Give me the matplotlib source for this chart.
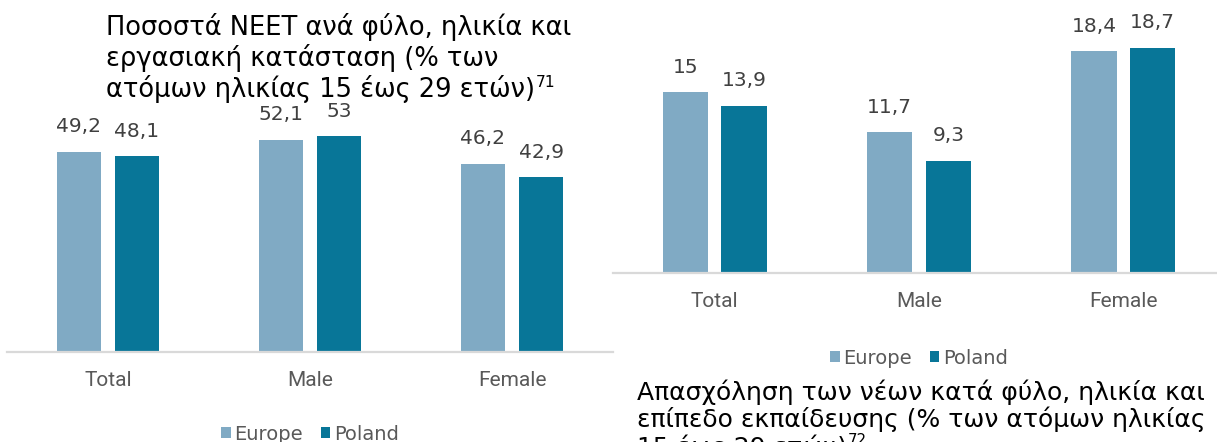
import matplotlib
matplotlib.use("Agg")
import matplotlib.pyplot as plt
from matplotlib.patches import Patch

W, H = 1217, 442

categories = ["Total", "Male", "Female"]
series_names = ["Europe", "Poland"]

neet_europe = [49.2, 52.1, 46.2]
neet_poland = [48.1, 53.0, 42.9]

emp_europe = [15.0, 11.7, 18.4]
emp_poland = [13.9, 9.3, 18.7]

title_left = ["Ποσοστά NEET ανά φύλο, ηλικία και",
              "εργασιακή κατάσταση (% των",
              "ατόμων ηλικίας 15 έως 29 ετών)"]
title_left_note = "71"
title_right = ["Απασχόληση των νέων κατά φύλο, ηλικία και",
               "επίπεδο εκπαίδευσης (% των ατόμων ηλικίας",
               "15 έως 29 ετών)"]
title_right_note = "72"

C_EU = "#80AAC4"
C_PL = "#087698"
C_VAL = "#404040"
C_CAT = "#595959"
C_AX = "#D9D9D9"

CAT_FONT = ["Roboto", "DejaVu Sans"]
VAL_FONT = ["DejaVu Sans"]
TITLE_FONT = ["DejaVu Sans"]


def fx(px):
    return px / W


def fy(py):
    return 1 - py / H


def fmt(v):
    s = f"{v:.1f}".replace(".", ",")
    if s.endswith(",0"):
        s = s[:-2]
    return s


fig = plt.figure(figsize=(W / 100, H / 100), dpi=100)


def make_chart(rect, eu, pl, ylim, legend_y):
    ax = fig.add_axes(rect)
    x = list(range(len(categories)))
    bw = 0.222
    off = 0.1436
    b1 = ax.bar([i - off for i in x], eu, width=bw, color=C_EU)
    b2 = ax.bar([i + off for i in x], pl, width=bw, color=C_PL)
    for bars, vals in ((b1, eu), (b2, pl)):
        for r, v in zip(bars, vals):
            ax.annotate(fmt(v), xy=(r.get_x() + r.get_width() / 2, v),
                        xytext=(0, 18), textcoords="offset points",
                        ha="center", va="center", fontsize=14.5,
                        color=C_VAL, family=VAL_FONT)
    ax.set_xlim(-0.5, 2.5)
    ax.set_ylim(*ylim)
    ax.set_xticks(x)
    ax.set_xticklabels(categories, fontsize=15, color=C_CAT, family=CAT_FONT)
    ax.tick_params(axis="x", length=0, pad=14)
    ax.set_yticks([])
    for s in ("left", "right", "top"):
        ax.spines[s].set_visible(False)
    ax.spines["bottom"].set_color(C_AX)
    ax.spines["bottom"].set_linewidth(1.6)
    handles = [Patch(facecolor=C_EU), Patch(facecolor=C_PL)]
    ax.legend(handles, series_names, loc="center", ncol=2,
              bbox_to_anchor=(0.5, legend_y), frameon=False,
              prop={"family": VAL_FONT, "size": 14},
              labelcolor=C_CAT, handlelength=0.5, handleheight=0.5,
              handletextpad=0.2, columnspacing=0.9, borderaxespad=0)
    return ax


# left chart: baseline at y=352 px, 4.07 px per unit
ax1 = make_chart([fx(7), fy(352), fx(613) - fx(7), 60 * 4.07 / H],
                 neet_europe, neet_poland, (0, 60), -82 / (60 * 4.07))
# right chart: baseline at y=273 px, 12.05 px per unit
ax2 = make_chart([fx(612.5), fy(273), fx(1225.5) - fx(612.5), 21 * 12.05 / H],
                 emp_europe, emp_poland, (0, 21), -85 / (21 * 12.05))

fig.canvas.draw()
renderer = fig.canvas.get_renderer()


def title_block(lines, note, x0, baselines, size):
    last = None
    for ln, yb in zip(lines, baselines):
        last = fig.text(fx(x0), fy(yb), ln, fontsize=size, family=TITLE_FONT,
                        color="black", ha="left", va="baseline")
    bb = last.get_window_extent(renderer)
    fig.text(bb.x1 / W + 0.5 / W, fy(baselines[-1] - size * 0.55), note,
             fontsize=size * 0.6, family=TITLE_FONT, color="black",
             ha="left", va="baseline")


title_block(title_left, title_left_note, 106, [35, 66, 97], 18.5)
title_block(title_right, title_right_note, 637, [400, 427, 455], 18)

fig.savefig("out.png", dpi=100)
